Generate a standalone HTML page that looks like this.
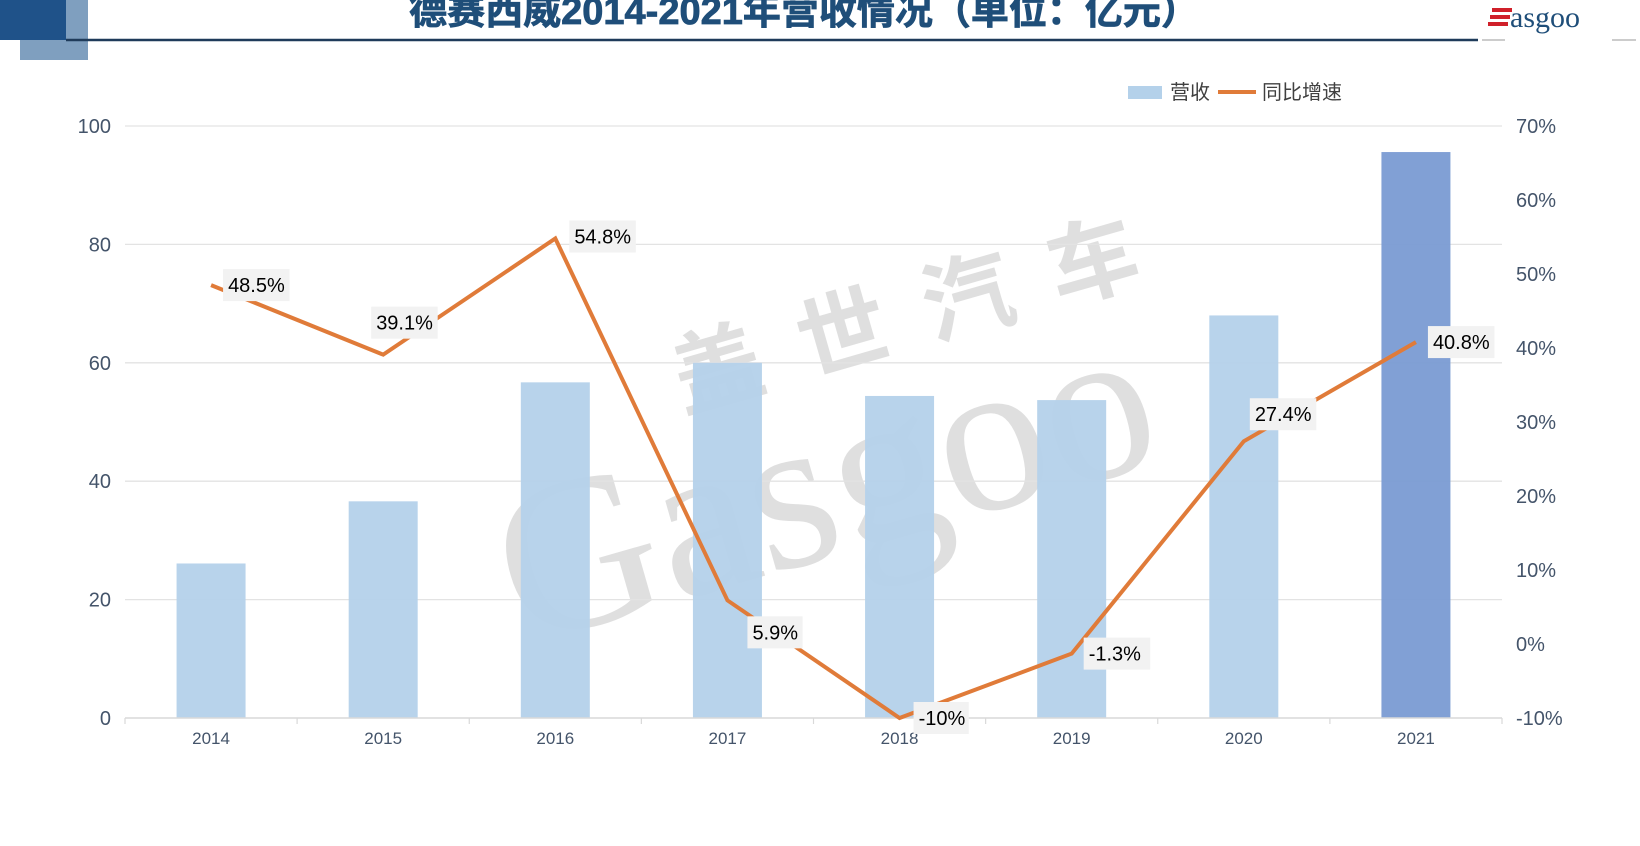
<!DOCTYPE html>
<html><head><meta charset="utf-8">
<style>
html,body{margin:0;padding:0;background:#fff;}
body{width:1640px;height:846px;overflow:hidden;position:relative;font-family:"Liberation Sans","Noto Sans CJK SC",sans-serif;}
svg{position:absolute;left:0;top:0;}
</style></head>
<body>
<svg id="chart" width="1640" height="846">
  <g>
    <rect x="20" y="0" width="68" height="60" fill="#7f9fbf"/>
    <rect x="0" y="0" width="66" height="40" fill="#1f5289"/>
    <line x1="66" y1="40" x2="1478" y2="40" stroke="#1f3b5a" stroke-width="2.5"/>
    <text x="804" y="24" text-anchor="middle" font-size="38" font-weight="bold" fill="#1f4e79" stroke="#1f4e79" stroke-width="0.8" font-family="'Liberation Sans','Noto Sans CJK SC',sans-serif">德赛西威2014-2021年营收情况（单位：亿元）</text>
    <g>
      <rect x="1492" y="8" width="20" height="4" fill="#d0202a"/>
      <rect x="1490" y="15" width="20" height="4" fill="#d0202a"/>
      <rect x="1488" y="22" width="20" height="4" fill="#d0202a"/>
      <text x="1510" y="27" font-size="30" fill="#1f4e79" font-family="'Liberation Serif',serif">asgoo</text>
      <line x1="1482" y1="40" x2="1505" y2="40" stroke="#999" stroke-width="1"/>
      <line x1="1612" y1="40" x2="1636" y2="40" stroke="#999" stroke-width="1"/>
    </g>
  </g>
  <g opacity="0.12" transform="rotate(-16 800 420)">
    <text x="690" y="380" font-size="90" font-weight="bold" fill="#000" letter-spacing="40" font-family="'Noto Sans CJK SC',sans-serif">盖世汽车</text>
    <text x="470" y="560" font-size="220" fill="#000" font-family="'Liberation Serif',serif">Gasgoo</text>
  </g>
  <g id="grid"></g>
  <g id="bars"></g>
  <g id="axes"></g>
  <g id="line"></g>
  <g id="labels"></g>
  <g>
    <rect x="1128" y="86" width="34" height="13" fill="#b4d1ea"/>
    <text x="1170" y="99" font-size="20" fill="#404040">营收</text>
    <line x1="1218" y1="92" x2="1256" y2="92" stroke="#e07b39" stroke-width="4"/>
    <text x="1262" y="99" font-size="20" fill="#404040">同比增速</text>
  </g>
</svg>
<script>
const categories = ["2014","2015","2016","2017","2018","2019","2020","2021"];
const revenue = [26.1, 36.6, 56.7, 60.0, 54.4, 53.7, 68.0, 95.6];
const growth = [48.5, 39.1, 54.8, 5.9, -10, -1.3, 27.4, 40.8];
const growthLabels = ["48.5%","39.1%","54.8%","5.9%","-10%","-1.3%","27.4%","40.8%"];
const leftTicks = [0, 20, 40, 60, 80, 100];
const rightTicks = [-10, 0, 10, 20, 30, 40, 50, 60, 70];

const NS = "http://www.w3.org/2000/svg";
const X0 = 125, X1 = 1502, YT = 126, YB = 718;
const slot = (X1 - X0) / categories.length;
const xc = i => X0 + slot * (i + 0.5);
const yL = v => YB - (v / 100) * (YB - YT);
const yR = v => YB - ((v + 10) / 80) * (YB - YT);
function mk(tag, attrs, parent) { const e = document.createElementNS(NS, tag); for (const k in attrs) e.setAttribute(k, attrs[k]); parent.appendChild(e); return e; }

const grid = document.getElementById('grid');
const axes = document.getElementById('axes');
leftTicks.forEach(t => {
  const y = yL(t);
  if (t > 0) { const g = mk('line', {x1: X0, x2: X1, y1: y, y2: y, stroke: '#e3e3e3', 'stroke-width': 1.3}, grid);
    
     }
  const tx = mk('text', {x: 111, y: y + 7, 'text-anchor': 'end', 'font-size': 20, fill: '#44546a'}, axes);
  tx.textContent = t;
  
  
});
rightTicks.forEach(t => {
  const tx = mk('text', {x: 1516, y: yR(t) + 7, 'font-size': 20, fill: '#44546a'}, axes);
  tx.textContent = t + '%';
  
  
});
const xa = mk('line', {x1: X0, x2: X1, y1: YB, y2: YB, stroke: '#d9d9d9', 'stroke-width': 1.5}, axes);


for (let i = 0; i <= categories.length; i++) {
  const tk = mk('line', {x1: X0 + slot * i, x2: X0 + slot * i, y1: YB, y2: YB + 6, stroke: '#d9d9d9', 'stroke-width': 1.2}, axes);
  
  
}
categories.forEach((c, i) => {
  const tx = mk('text', {x: xc(i), y: 744, 'text-anchor': 'middle', 'font-size': 17, fill: '#44546a'}, axes);
  tx.textContent = c;
  
  
});

const bars = document.getElementById('bars');
const BW = 69;
revenue.forEach((v, i) => {
  const b = mk('rect', {x: xc(i) - BW / 2, y: yL(v), width: BW, height: YB - yL(v), fill: i === revenue.length - 1 ? '#7a9bd3' : '#b4d1ea', opacity: 0.95}, bars);
  
  
});

const lineG = document.getElementById('line');
const pts = growth.map((v, i) => xc(i) + ',' + yR(v)).join(' ');
const pl = mk('polyline', {points: pts, fill: 'none', stroke: '#e07b39', 'stroke-width': 4, 'stroke-linejoin': 'miter'}, lineG);



const labelOffsets = [[12, 0], [-12, -32], [14, -2], [20, 32], [14, 0], [12, 0], [6, -27], [12, 0]];
const labG = document.getElementById('labels');
growth.forEach((v, i) => {
  const x = xc(i) + labelOffsets[i][0], y = yR(v) + labelOffsets[i][1];
  const w = growthLabels[i].length * 11.3 + 10;
  const r = mk('rect', {x: x, y: y - 16, width: w, height: 32, fill: '#f2f2f2'}, labG);
  
  
  const t = mk('text', {x: x + 5, y: y + 7, 'font-size': 20, fill: '#000'}, labG);
  t.textContent = growthLabels[i];
  
  
});
</script>
</body></html>
